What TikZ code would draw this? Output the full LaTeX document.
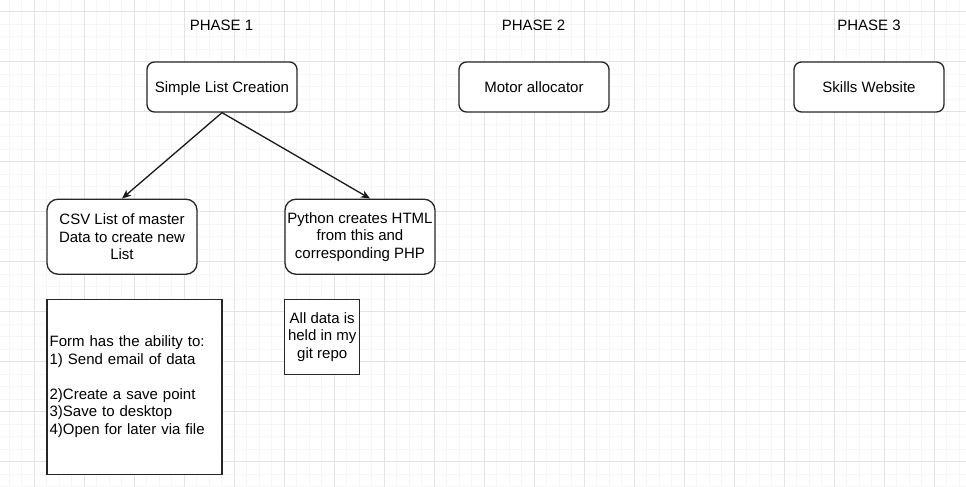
\documentclass[tikz,border=0pt]{standalone}
\usepackage{fontspec}
\setmainfont{Liberation Sans}
\usetikzlibrary{arrows.meta}

\begin{document}
\begin{tikzpicture}[x=1pt, y=-1pt,
  every node/.style={font=\fontsize{15}{17.5}\selectfont, text=black},
  oneline/.style={text height=10.8pt, text depth=0pt},
  minorline/.style={draw=black!3.5, line width=1pt},
  majorline/.style={draw=black!11, line width=1pt},
  roundbox/.style={draw=black!85, line width=1.3pt, fill=white, rounded corners=7.5pt,
    minimum width=150pt, minimum height=50pt, align=center, inner sep=2pt},
  tallbox/.style={roundbox, rounded corners=11pt, minimum height=75pt},
  plainbox/.style={draw=black!85, line width=1.3pt, fill=white, inner sep=2.5pt},
  link/.style={-{Stealth[length=9pt, width=7.5pt, inset=2.5pt]}, draw=black!90, line width=1.3pt}]
  \useasboundingbox (0,0) rectangle (966,487);
  \fill[white] (0,0) rectangle (966,487);
  % grid
  \foreach \gx in {9,21.5,...,966}
    \draw[minorline] (\gx,0) -- (\gx,487);
  \foreach \gy in {11.7,24.2,...,487}
    \draw[minorline] (0,\gy) -- (966,\gy);
  \foreach \gx in {34,84,...,934}
    \draw[majorline] (\gx,0) -- (\gx,487);
  \foreach \gy in {11.7,61.7,...,461.7}
    \draw[majorline] (0,\gy) -- (966,\gy);

  % phases
  \node[oneline] (phaseone) at (221.5,25) {PHASE 1};
  \node[oneline] (phasetwo) at (533.5,25) {PHASE 2};
  \node[oneline] (phasethree) at (869,25) {PHASE 3};

  \node[roundbox, oneline] (slc) at (222,87) {Simple List Creation};
  \node[roundbox, oneline] (motor) at (534,87) {Motor allocator};
  \node[roundbox, oneline] (skills) at (869,87) {Skills Website};

  \node[tallbox] (csv) at (122,236.7) {CSV List of master\\Data to create new\\List};
  \node[tallbox] (python) at (360,236.7) {Python creates HTML\\from this and\\corresponding PHP};

  \node[plainbox, minimum width=175pt, minimum height=175pt, text width=170pt, align=left] (form)
    at (134.6,386.7) {Form has the ability to:\\1) Send email of data\\[17.5pt]2)Create a save point\\3)Save to desktop\\4)Open for later via file};
  \node[plainbox, minimum width=75pt, minimum height=75pt, align=center] (gitrepo)
    at (322.2,336.8) {All data is\\held in my\\git repo};

  \draw[link] (slc.south) -- (csv.north);
  \draw[link] (slc.south) -- ([xshift=10pt]python.north);
\end{tikzpicture}
\end{document}
